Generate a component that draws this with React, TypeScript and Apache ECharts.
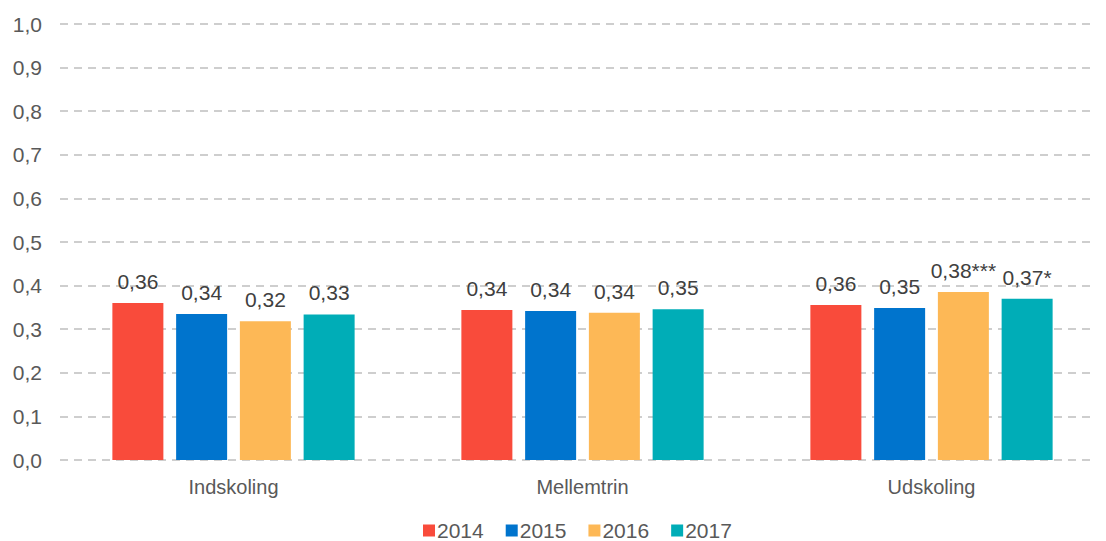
import React, { useEffect, useRef } from "react";
import * as echarts from "echarts";

const categories = ["Indskoling", "Mellemtrin", "Udskoling"];
const seriesNames = ["2014", "2015", "2016", "2017"];
const values2014 = [0.36, 0.344, 0.3555];
const values2015 = [0.335, 0.342, 0.3486];
const values2016 = [0.318, 0.338, 0.3853];
const values2017 = [0.334, 0.346, 0.37];
const labels2014 = ["0,36", "0,34", "0,36"];
const labels2015 = ["0,34", "0,34", "0,35"];
const labels2016 = ["0,32", "0,34", "0,38***"];
const labels2017 = ["0,33", "0,35", "0,37*"];
const yTicks = ["0,0", "0,1", "0,2", "0,3", "0,4", "0,5", "0,6", "0,7", "0,8", "0,9", "1,0"];

const colors = ["#F94B3B", "#0074CD", "#FDB856", "#00ADB7"];

export default function App() {
  const ref = useRef<HTMLDivElement>(null);
  useEffect(() => {
    if (!ref.current) return;
    document.body.style.margin = "0";
    const chart = echarts.init(ref.current, null, { renderer: "svg" });
    const allValues = [values2014, values2015, values2016, values2017];
    const allLabels = [labels2014, labels2015, labels2016, labels2017];
    chart.setOption({
      animation: false,
      textStyle: { fontFamily: "Liberation Sans, Arial, sans-serif" },
      grid: [
        { left: 60, right: 12, top: 24, bottom: 81 },
        { left: 59, width: 1051, top: 24, bottom: 81 },
      ],
      legend: {
        bottom: -5,
        left: 418,
        itemWidth: 12,
        itemHeight: 12,
        itemGap: 22,
        icon: "rect",
        textStyle: { fontSize: 21, color: "#595959", padding: [0, 0, 0, -3] },
        data: seriesNames,
      },
      xAxis: [
        {
          type: "category",
          gridIndex: 0,
          data: categories,
          show: false,
        },
        {
          type: "category",
          gridIndex: 1,
          data: categories,
          axisLine: { show: false },
          axisTick: { show: false },
          axisLabel: { fontSize: 20, color: "#595959", margin: 17 },
        },
      ],
      yAxis: [
        {
          type: "value",
          gridIndex: 0,
          min: 0,
          max: 1,
          interval: 0.1,
          axisLine: { show: false },
          axisTick: { show: false },
          axisLabel: {
            fontSize: 21,
            color: "#595959",
            margin: 18,
            formatter: (v: number) => yTicks[Math.round(v * 10)],
          },
          splitLine: { lineStyle: { color: "#BFBFBF", type: [8, 6], width: 1.5 } },
        },
        {
          type: "value",
          gridIndex: 1,
          min: 0,
          max: 1,
          interval: 0.1,
          show: false,
          splitLine: { show: false },
        },
      ],
      series: seriesNames.map((name, i) => ({
        name,
        type: "bar",
        xAxisIndex: 1,
        yAxisIndex: 1,
        barWidth: 51,
        barGap: "25%",
        itemStyle: { color: colors[i] },
        data: allValues[i],
        label: {
          show: true,
          position: "top",
          distance: 11,
          fontSize: 21,
          color: "#404040",
          formatter: (p: any) => allLabels[i][p.dataIndex],
        },
      })),
    });
    return () => chart.dispose();
  }, []);
  return <div ref={ref} style={{ width: 1106, height: 541 }} />;
}
